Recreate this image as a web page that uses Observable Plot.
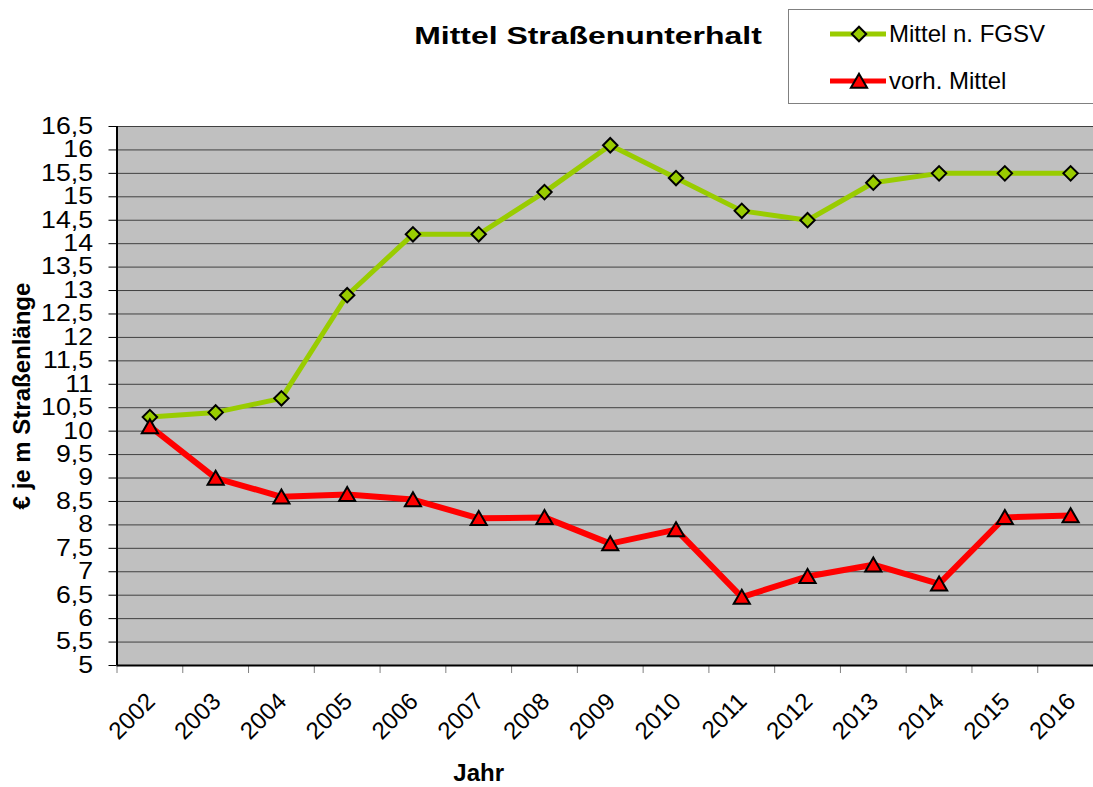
<!DOCTYPE html>
<html><head><meta charset="utf-8">
<script src="https://cdn.jsdelivr.net/npm/d3@7"></script>
<script src="https://cdn.jsdelivr.net/npm/@observablehq/plot@0.6"></script>
<style>
html,body{margin:0;padding:0;background:#fff;overflow:hidden;width:1093px;height:787px;}
body{font-family:"Liberation Sans",Arial,sans-serif;position:relative;}
#title{position:absolute;left:588px;top:22px;font-size:24px;font-weight:bold;color:#000;white-space:nowrap;transform:translateX(-50%) scaleX(1.33);transform-origin:center;}
#legend{position:absolute;left:788px;top:9px;width:320px;height:95px;border:1px solid #808080;box-sizing:border-box;background:#fff;}
.li{position:absolute;left:40px;height:30px;display:flex;align-items:center;font-size:24px;}
#chart{position:absolute;left:0;top:0;width:1103px;}
#chart svg{max-width:none !important;}
</style></head>
<body>
<div id="chart"></div>
<div id="title">Mittel Straßenunterhalt</div>
<div id="legend"></div>
<script>
const years = [2002,2003,2004,2005,2006,2007,2008,2009,2010,2011,2012,2013,2014,2015,2016];
const fgsv  = [10.3,10.4,10.7,12.9,14.2,14.2,15.1,16.1,15.4,14.7,14.5,15.3,15.5,15.5,15.5];
const vorh  = [10.1,9.0,8.6,8.65,8.54,8.14,8.16,7.6,7.9,6.46,6.9,7.15,6.74,8.16,8.2];
const yTicks = d3.range(5, 16.51, 0.5);
const seriesNames = ["Mittel n. FGSV", "vorh. Mittel"];
const colors = ["#99cc00", "#ff0000"];

const dataG = years.map((y,i)=>({year:y, v:fgsv[i]}));
const dataR = years.map((y,i)=>({year:y, v:vorh[i]}));
const bounds = years.map(y=>y-0.5).concat([years[years.length-1]+0.5]);
const fmt = d => String(d).replace(".", ",");

const chart = Plot.plot({
  width: 1103, height: 787,
  marginLeft: 116.5, marginRight: 0, marginTop: 126, marginBottom: 122,
  style: {fontFamily: '"Liberation Sans", Arial, sans-serif', background: "transparent", color: "#000", maxWidth: "none"},
  x: {domain: [2001.5, 2016.5]},
  y: {domain: [5, 16.5]},
  marks: [
    Plot.frame({fill: "#c0c0c0", stroke: "#808080"}),
    Plot.gridY(yTicks.slice(1), {stroke: "#404040", strokeOpacity: 1, strokeWidth: 1}),
    Plot.axisY(yTicks, {tickFormat: fmt, fontSize: 23, tickSize: 8, tickPadding: 16, label: null, stroke: "#000"}),
    Plot.axisX(bounds, {tickFormat: () => "", tickSize: 8, label: null, stroke: "#808080"}),
    Plot.ruleX([2001.5], {stroke: "#000", strokeWidth: 2}),
    Plot.ruleY([5], {stroke: "#000", strokeWidth: 2}),
    Plot.text(years, {x: d=>d, frameAnchor: "bottom", text: d=>String(d), rotate: -45, textAnchor: "end", fontSize: 24, dx: 1, dy: 32, lineAnchor: "middle"}),
    Plot.line(dataG, {x: "year", y: "v", stroke: colors[0], strokeWidth: 5}),
    Plot.line(dataR, {x: "year", y: "v", stroke: colors[1], strokeWidth: 6}),
    Plot.dot(dataG, {x: "year", y: "v", symbol: "diamond2", r: 6.5, fill: colors[0], stroke: "#000", strokeWidth: 2}),
    Plot.dot(dataR, {x: "year", y: "v", symbol: "triangle", r: 6, fill: colors[1], stroke: "#000", strokeWidth: 2, dy: 2}),
    Plot.text(["€ je m Straßenlänge"], {frameAnchor: "left", textAnchor: "middle", dx: -95, rotate: -90, fontSize: 24, fontWeight: "bold"}),
    Plot.text(["Jahr"], {x: 2007, frameAnchor: "bottom", lineAnchor: "middle", dy: 108, fontSize: 24, fontWeight: "bold"})
  ]
});
chart.style.maxWidth = "none";
// widen y tick labels horizontally to match the reference's proportions
d3.select(chart).selectAll('g[aria-label="y-axis tick label"] text').each(function() {
  const t = this.getAttribute("transform") || "";
  this.setAttribute("transform", t + " scale(1.16,1)");
});
document.getElementById("chart").appendChild(chart);

// legend
const leg = document.getElementById("legend");
seriesNames.forEach((name, i) => {
  const row = document.createElement("div");
  row.className = "li";
  row.style.top = (i === 0 ? 9 : 56) + "px";
  const s = d3.create("svg").attr("width", 58).attr("height", 30);
  s.append("line").attr("x1", 1).attr("x2", 57).attr("y1", 15).attr("y2", 15).attr("stroke", colors[i]).attr("stroke-width", 5);
  const sym = i === 0 ? d3.symbol(d3.symbolDiamond2, Math.PI*6.5*6.5) : d3.symbol(d3.symbolTriangle, Math.PI*6*6);
  s.append("path").attr("d", sym()).attr("transform", "translate(30," + (i===0?15:17) + ")").attr("fill", colors[i]).attr("stroke", "#000").attr("stroke-width", 2);
  row.appendChild(s.node());
  const t = document.createElement("span");
  t.textContent = name;
  t.style.marginLeft = "2px";
  row.appendChild(t);
  leg.appendChild(row);
});
</script>
</body></html>
